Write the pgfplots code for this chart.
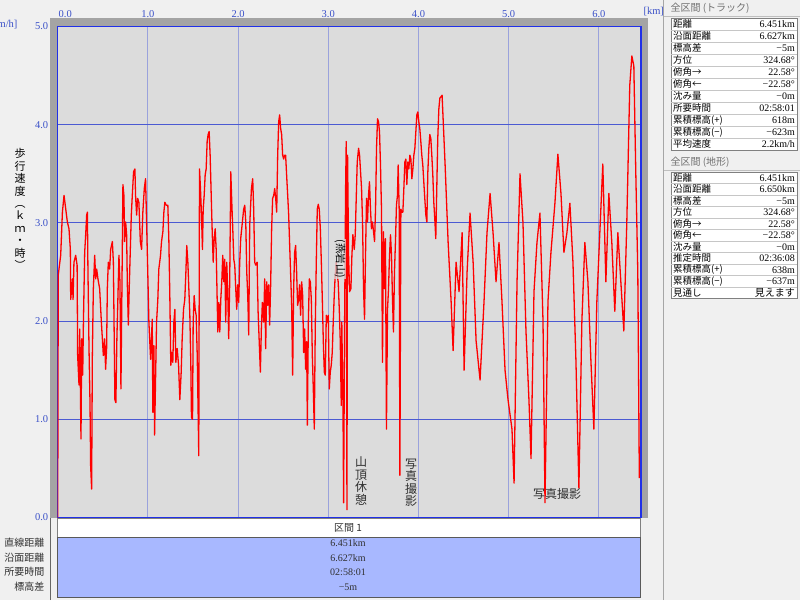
\documentclass[border=0pt]{standalone}
\usepackage{pgfplots}
\pgfplotsset{compat=1.18}
\usepackage{fontspec}
\setmainfont{Liberation Serif}
\newfontfamily\jp{Noto Sans CJK JP}
\definecolor{bg}{HTML}{F0F0F0}
\definecolor{plotbg}{HTML}{DCDCDC}
\definecolor{framegray}{HTML}{A4A4A4}
\definecolor{tickblue}{HTML}{3A50C8}
\definecolor{hgrid}{HTML}{4B5AD2}
\definecolor{vgrid}{HTML}{9AA2DC}
\definecolor{borderblue}{HTML}{2030E8}
\definecolor{boxblue}{HTML}{A8B8FF}
\definecolor{txtgray}{HTML}{303030}
\definecolor{hdrgray}{HTML}{707070}
\begin{document}
\begin{tikzpicture}[x=1pt,y=1pt]
\useasboundingbox (0,0) rectangle (800,600);
\clip (0,0) rectangle (800,600);
\fill[bg] (0,0) rectangle (800,600);
% chart frame
\fill[framegray] (50,82) rectangle (648,582);
\draw[gray!80!black] (50.5,0) -- (50.5,82);
% bottom boxes
\draw[fill=white,draw=gray] (57,63) rectangle (640,82);
\draw[fill=boxblue,draw=gray!70!black] (57,3) rectangle (640,63);
\node[font=\jp\fontsize{10}{10}\selectfont,text=txtgray] at (348,72) {区間 1};
\begin{scope}[font=\fontsize{10}{10}\selectfont,text=txtgray]
\node at (348,57) {6.451km};
\node at (348,42) {6.627km};
\node at (348,28) {02:58:01};
\node at (348,13) {−5m};
\end{scope}
\begin{scope}[font=\jp\fontsize{10}{10}\selectfont,text=txtgray]
\node[anchor=east] at (48,57) {直線距離};
\node[anchor=east] at (48,42) {沿面距離};
\node[anchor=east] at (48,28) {所要時間};
\node[anchor=east] at (48,13) {標高差};
\end{scope}
% axis
\begin{axis}[at={(64,84)}, anchor=south west, scale only axis,
  width=583.5pt, height=491pt,
  xmin=0, xmax=6.47, ymin=0, ymax=5,
  axis background/.style={fill=plotbg},
  axis line style={borderblue, line width=1.5pt},
  xtick={0,1,2,3,4,5,6}, ytick={0,1,2,3,4,5},
  xticklabels={{\hspace*{15pt}0.0},1.0,2.0,3.0,4.0,5.0,6.0},
  yticklabels={0.0,1.0,2.0,3.0,4.0,5.0},
  xticklabel pos=upper,
  major tick length=0pt,
  xmajorgrids, ymajorgrids,
  x grid style={vgrid, line width=0.9pt},
  y grid style={hgrid, line width=1.1pt},
  ticklabel style={font=\fontsize{10.5}{10.5}\selectfont, text=tickblue},
  xticklabel style={yshift=5pt},
  yticklabel style={xshift=-6pt},
  clip=true,
]
\addplot[red, line width=1.3pt, line join=round] coordinates {
(0,0) (0.003,1.25) (0.006,2.47) (0.033,2.67) (0.052,3.11) (0.070,3.28) (0.089,3.14) (0.107,3.01) (0.125,2.94) (0.140,2.73) (0.144,2.22) (0.163,2.43) (0.170,2.22) (0.180,2.60) (0.199,2.67) (0.215,2.57) (0.221,1.65) (0.236,1.35) (0.244,1.92) (0.258,0.80) (0.266,1.82) (0.277,1.45) (0.285,1.99) (0.299,2.70) (0.310,2.88) (0.321,3.08) (0.329,3.11) (0.335,2.53) (0.347,1.72) (0.358,1.17) (0.365,0.53) (0.376,0.29) (0.384,1.65) (0.395,2.33) (0.410,2.67) (0.421,2.43) (0.432,2.53) (0.446,2.43) (0.465,2.33) (0.484,1.99) (0.495,1.82) (0.506,1.65) (0.520,1.82) (0.531,1.51) (0.542,1.72) (0.550,2.33) (0.561,2.60) (0.576,2.53) (0.587,2.73) (0.606,2.81) (0.617,2.60) (0.623,2.12) (0.634,1.20) (0.645,1.17) (0.656,1.82) (0.668,2.26) (0.679,2.67) (0.690,2.40) (0.701,1.31) (0.712,2.33) (0.723,3.39) (0.734,3.28) (0.742,2.81) (0.753,3.01) (0.764,2.88) (0.772,2.37) (0.783,1.96) (0.794,2.37) (0.805,2.73) (0.816,3.08) (0.827,3.28) (0.841,3.52) (0.856,3.55) (0.863,3.28) (0.875,3.08) (0.886,3.25) (0.900,3.21) (0.916,2.81) (0.930,2.73) (0.944,3.11) (0.960,3.35) (0.974,3.45) (0.982,3.14) (0.996,2.60) (1.011,1.99) (1.030,1.61) (1.048,2.02) (1.055,1.07) (1.066,1.75) (1.074,0.84) (1.085,1.41) (1.096,1.99) (1.110,2.22) (1.121,2.53) (1.140,2.67) (1.151,2.81) (1.166,2.91) (1.177,3.11) (1.188,3.21) (1.203,3.18) (1.221,3.18) (1.232,2.84) (1.243,2.26) (1.254,1.55) (1.265,1.68) (1.276,1.58) (1.288,1.99) (1.299,2.12) (1.310,1.58) (1.325,1.72) (1.340,1.55) (1.354,1.20) (1.369,1.48) (1.380,1.82) (1.395,2.12) (1.409,2.22) (1.420,2.47) (1.431,2.77) (1.443,2.60) (1.454,2.33) (1.465,2.06) (1.476,1.55) (1.483,1.02) (1.495,1.00) (1.502,1.99) (1.513,2.26) (1.524,2.12) (1.535,2.06) (1.547,1.65) (1.558,1.00) (1.564,0.63) (1.572,3.55) (1.583,3.35) (1.594,3.08) (1.605,2.73) (1.613,3.14) (1.624,3.28) (1.635,3.49) (1.646,3.55) (1.657,3.83) (1.668,3.90) (1.679,3.93) (1.690,3.69) (1.702,3.28) (1.713,2.91) (1.724,2.60) (1.735,2.84) (1.746,2.94) (1.757,2.73) (1.768,2.22) (1.775,1.89) (1.786,2.19) (1.797,1.89) (1.808,2.22) (1.819,2.40) (1.830,2.67) (1.841,2.40) (1.852,2.63) (1.863,1.99) (1.874,2.60) (1.885,2.30) (1.896,1.82) (1.907,2.40) (1.919,3.52) (1.930,3.21) (1.941,2.94) (1.952,2.63) (1.963,2.57) (1.974,2.33) (1.985,2.12) (1.996,2.37) (2.007,2.19) (2.018,2.60) (2.029,2.84) (2.040,2.94) (2.051,3.04) (2.062,3.14) (2.074,3.18) (2.085,3.01) (2.096,2.50) (2.107,2.26) (2.118,1.86) (2.129,2.98) (2.148,3.35) (2.162,3.45) (2.173,3.14) (2.184,2.60) (2.195,2.57) (2.211,2.60) (2.222,2.09) (2.236,1.75) (2.247,1.48) (2.258,1.92) (2.269,2.19) (2.284,1.99) (2.295,2.43) (2.306,1.72) (2.317,2.40) (2.328,2.16) (2.339,2.37) (2.350,1.96) (2.361,2.37) (2.372,2.94) (2.383,3.25) (2.395,3.28) (2.406,3.35) (2.417,3.25) (2.428,3.11) (2.439,3.69) (2.450,4.03) (2.461,4.10) (2.472,3.96) (2.483,3.90) (2.494,3.69) (2.505,3.65) (2.516,3.69) (2.527,3.69) (2.538,3.49) (2.550,3.28) (2.561,3.08) (2.572,2.77) (2.583,2.47) (2.594,2.16) (2.605,1.45) (2.616,2.33) (2.627,2.70) (2.638,2.77) (2.649,2.50) (2.660,2.16) (2.671,2.22) (2.682,2.37) (2.693,2.06) (2.705,2.40) (2.716,2.26) (2.727,1.68) (2.738,1.92) (2.749,1.51) (2.760,1.79) (2.768,0.94) (2.779,1.99) (2.790,2.43) (2.801,2.40) (2.812,2.22) (2.823,1.65) (2.834,1.31) (2.845,0.90) (2.856,1.96) (2.867,2.60) (2.878,3.14) (2.889,3.19) (2.900,3.14) (2.912,2.94) (2.923,2.60) (2.934,2.22) (2.945,1.79) (2.956,1.48) (2.967,1.45) (2.978,2.06) (2.989,1.99) (3.000,2.06) (3.011,1.31) (3.022,1.48) (3.033,1.55) (3.044,1.68) (3.055,1.99) (3.066,2.26) (3.077,2.47) (3.088,2.60) (3.099,2.47) (3.110,2.40) (3.122,2.12) (3.133,1.79) (3.144,1.14) (3.150,1.99) (3.155,1.65) (3.163,1.14) (3.170,0.15) (3.181,1.99) (3.192,3.35) (3.199,3.83) (3.207,0.08) (3.214,3.69) (3.225,2.67) (3.236,2.30) (3.251,2.33) (3.262,2.67) (3.273,2.88) (3.288,2.73) (3.299,2.88) (3.310,3.25) (3.321,3.62) (3.336,3.76) (3.347,3.69) (3.358,3.52) (3.369,3.35) (3.380,3.01) (3.391,2.33) (3.402,2.02) (3.413,2.67) (3.424,3.25) (3.435,3.01) (3.446,3.28) (3.457,3.42) (3.468,3.14) (3.479,2.94) (3.490,3.01) (3.502,2.91) (3.513,2.81) (3.524,3.14) (3.535,3.76) (3.546,4.06) (3.557,4.03) (3.568,3.93) (3.579,3.59) (3.590,3.14) (3.601,1.58) (3.612,2.91) (3.623,2.33) (3.634,2.84) (3.645,0.90) (3.657,2.12) (3.668,2.33) (3.679,2.67) (3.690,2.88) (3.701,2.67) (3.712,2.22) (3.723,1.89) (3.734,2.50) (3.745,2.81) (3.756,3.18) (3.767,3.28) (3.775,3.59) (3.786,3.14) (3.794,0.43) (3.805,3.14) (3.816,3.11) (3.827,3.11) (3.838,3.35) (3.849,3.62) (3.860,3.65) (3.871,3.39) (3.882,3.62) (3.893,3.55) (3.905,3.69) (3.916,3.65) (3.927,3.45) (3.938,3.55) (3.949,3.69) (3.960,3.76) (3.971,3.93) (3.982,4.10) (3.993,4.13) (4.004,4.03) (4.015,3.96) (4.026,3.83) (4.037,3.69) (4.048,3.59) (4.059,3.42) (4.070,3.25) (4.082,3.08) (4.093,3.01) (4.104,3.52) (4.115,3.76) (4.126,3.90) (4.137,3.86) (4.148,3.69) (4.159,3.49) (4.170,3.21) (4.181,3.04) (4.192,2.84) (4.203,3.35) (4.214,3.86) (4.226,4.16) (4.237,4.27)
(4.262,4.30) (4.295,3.6) (4.329,2.8) (4.362,2.2) (4.384,1.7) (4.417,2.6) (4.450,2.3) (4.484,2.9) (4.506,1.5) (4.539,2.5) (4.572,3.1) (4.606,2.6) (4.639,1.8) (4.683,1.4) (4.727,2.2) (4.760,2.9) (4.794,3.3) (4.827,2.9) (4.860,2.4) (4.893,2.8) (4.926,2.2) (4.960,1.5) (4.993,1.2) (5.037,0.9) (5.060,0.35) (5.093,2.4) (5.126,3.5) (5.159,3.0) (5.192,1.9) (5.225,1.2) (5.248,0.6) (5.281,2.3) (5.314,2.8) (5.347,3.1) (5.381,2.0) (5.403,0.15) (5.436,2.2) (5.469,2.7) (5.513,3.2) (5.546,3.7) (5.580,3.3) (5.613,2.7) (5.646,2.9) (5.679,3.2) (5.713,2.6) (5.746,1.6) (5.779,0.3) (5.812,2.0) (5.845,2.8) (5.879,2.4) (5.912,1.6) (5.945,0.9) (5.978,2.2) (6.011,2.9) (6.044,3.6) (6.078,2.4) (6.111,3.3) (6.144,2.8) (6.177,2.1) (6.211,2.9) (6.244,2.4) (6.277,1.9) (6.310,3.0) (6.343,4.4) (6.366,4.7) (6.388,4.6) (6.410,3.5) (6.432,2.5) (6.449,0.4)
};
\end{axis}
% axis unit labels
\node[anchor=east, font=\fontsize{10.5}{10.5}\selectfont, text=tickblue] at (21,575) {[km/h]};
\node[anchor=west, font=\fontsize{10.5}{10.5}\selectfont, text=tickblue] at (640,588) {[km]};
% y label (vertical)
\node[font=\jp\fontsize{11}{12.4}\selectfont, align=center, text=black, inner sep=0pt] at (20,391) {歩\\行\\速\\度\\︵\\ｋ\\ｍ\\・\\時\\︶};
% annotations
\node[rotate=-90, font=\jp\fontsize{10.5}{10.5}\selectfont, inner sep=0.6pt, fill=plotbg, fill opacity=0.75, text opacity=1, text=black] at (340,341) {(燕岩山)};
\node[font=\jp\fontsize{12}{12.5}\selectfont, align=center, inner sep=0pt, text=txtgray] at (361,119) {山\\頂\\休\\憩};
\node[font=\jp\fontsize{12}{12.5}\selectfont, align=center, inner sep=0pt, text=txtgray] at (411,117) {写\\真\\撮\\影};
\node[font=\jp\fontsize{12}{12}\selectfont, inner sep=0pt, text=txtgray] at (557,106) {写真撮影};
% right panel
\draw[gray!70] (663.5,0) -- (663.5,600);
\node[anchor=west, font=\jp\fontsize{10}{10}\selectfont, text=hdrgray] at (667,592) {全区間 (トラック)};
\draw[gray!50] (664,584) -- (800,584);
\draw[fill=white, draw=gray] (671,450) rectangle (797,582);
\foreach \i in {1,...,10} { \draw[gray!45] (671,582-12*\i) -- (797,582-12*\i); }
\foreach \i/\lab/\val in {0/距離/{6.451km},1/沿面距離/{6.627km},2/標高差/{−5m},3/方位/{324.68°},4/俯角→/{22.58°},5/俯角←/{−22.58°},6/沈み量/{−0m},7/所要時間/{02:58:01},8/累積標高(+)/{618m},9/累積標高(−)/{−623m},10/平均速度/{2.2km/h}} {
  \node[anchor=west, font=\jp\fontsize{9.5}{9.5}\selectfont, text=black, inner sep=0pt] at (673,576-12*\i) {\lab};
  \node[anchor=east, font=\fontsize{10}{10}\selectfont, text=black, inner sep=0pt] at (795,576-12*\i) {\val};
}
\node[anchor=west, font=\jp\fontsize{10}{10}\selectfont, text=hdrgray] at (667,438) {全区間 (地形)};
\draw[gray!50] (664,430) -- (800,430);
\draw[fill=white, draw=gray] (671,301.5) rectangle (797,428);
\foreach \i in {1,...,10} { \draw[gray!45] (671,428-11.5*\i) -- (797,428-11.5*\i); }
\foreach \i/\lab/\val in {0/距離/{6.451km},1/沿面距離/{6.650km},2/標高差/{−5m},3/方位/{324.68°},4/俯角→/{22.58°},5/俯角←/{−22.58°},6/沈み量/{−0m},7/推定時間/{02:36:08},8/累積標高(+)/{638m},9/累積標高(−)/{−637m},10/見通し/{\jp 見えます}} {
  \node[anchor=west, font=\jp\fontsize{9.5}{9.5}\selectfont, text=black, inner sep=0pt] at (673,422.2-11.5*\i) {\lab};
  \node[anchor=east, font=\fontsize{10}{10}\selectfont, text=black, inner sep=0pt] at (795,422.2-11.5*\i) {\val};
}
\end{tikzpicture}
\end{document}
